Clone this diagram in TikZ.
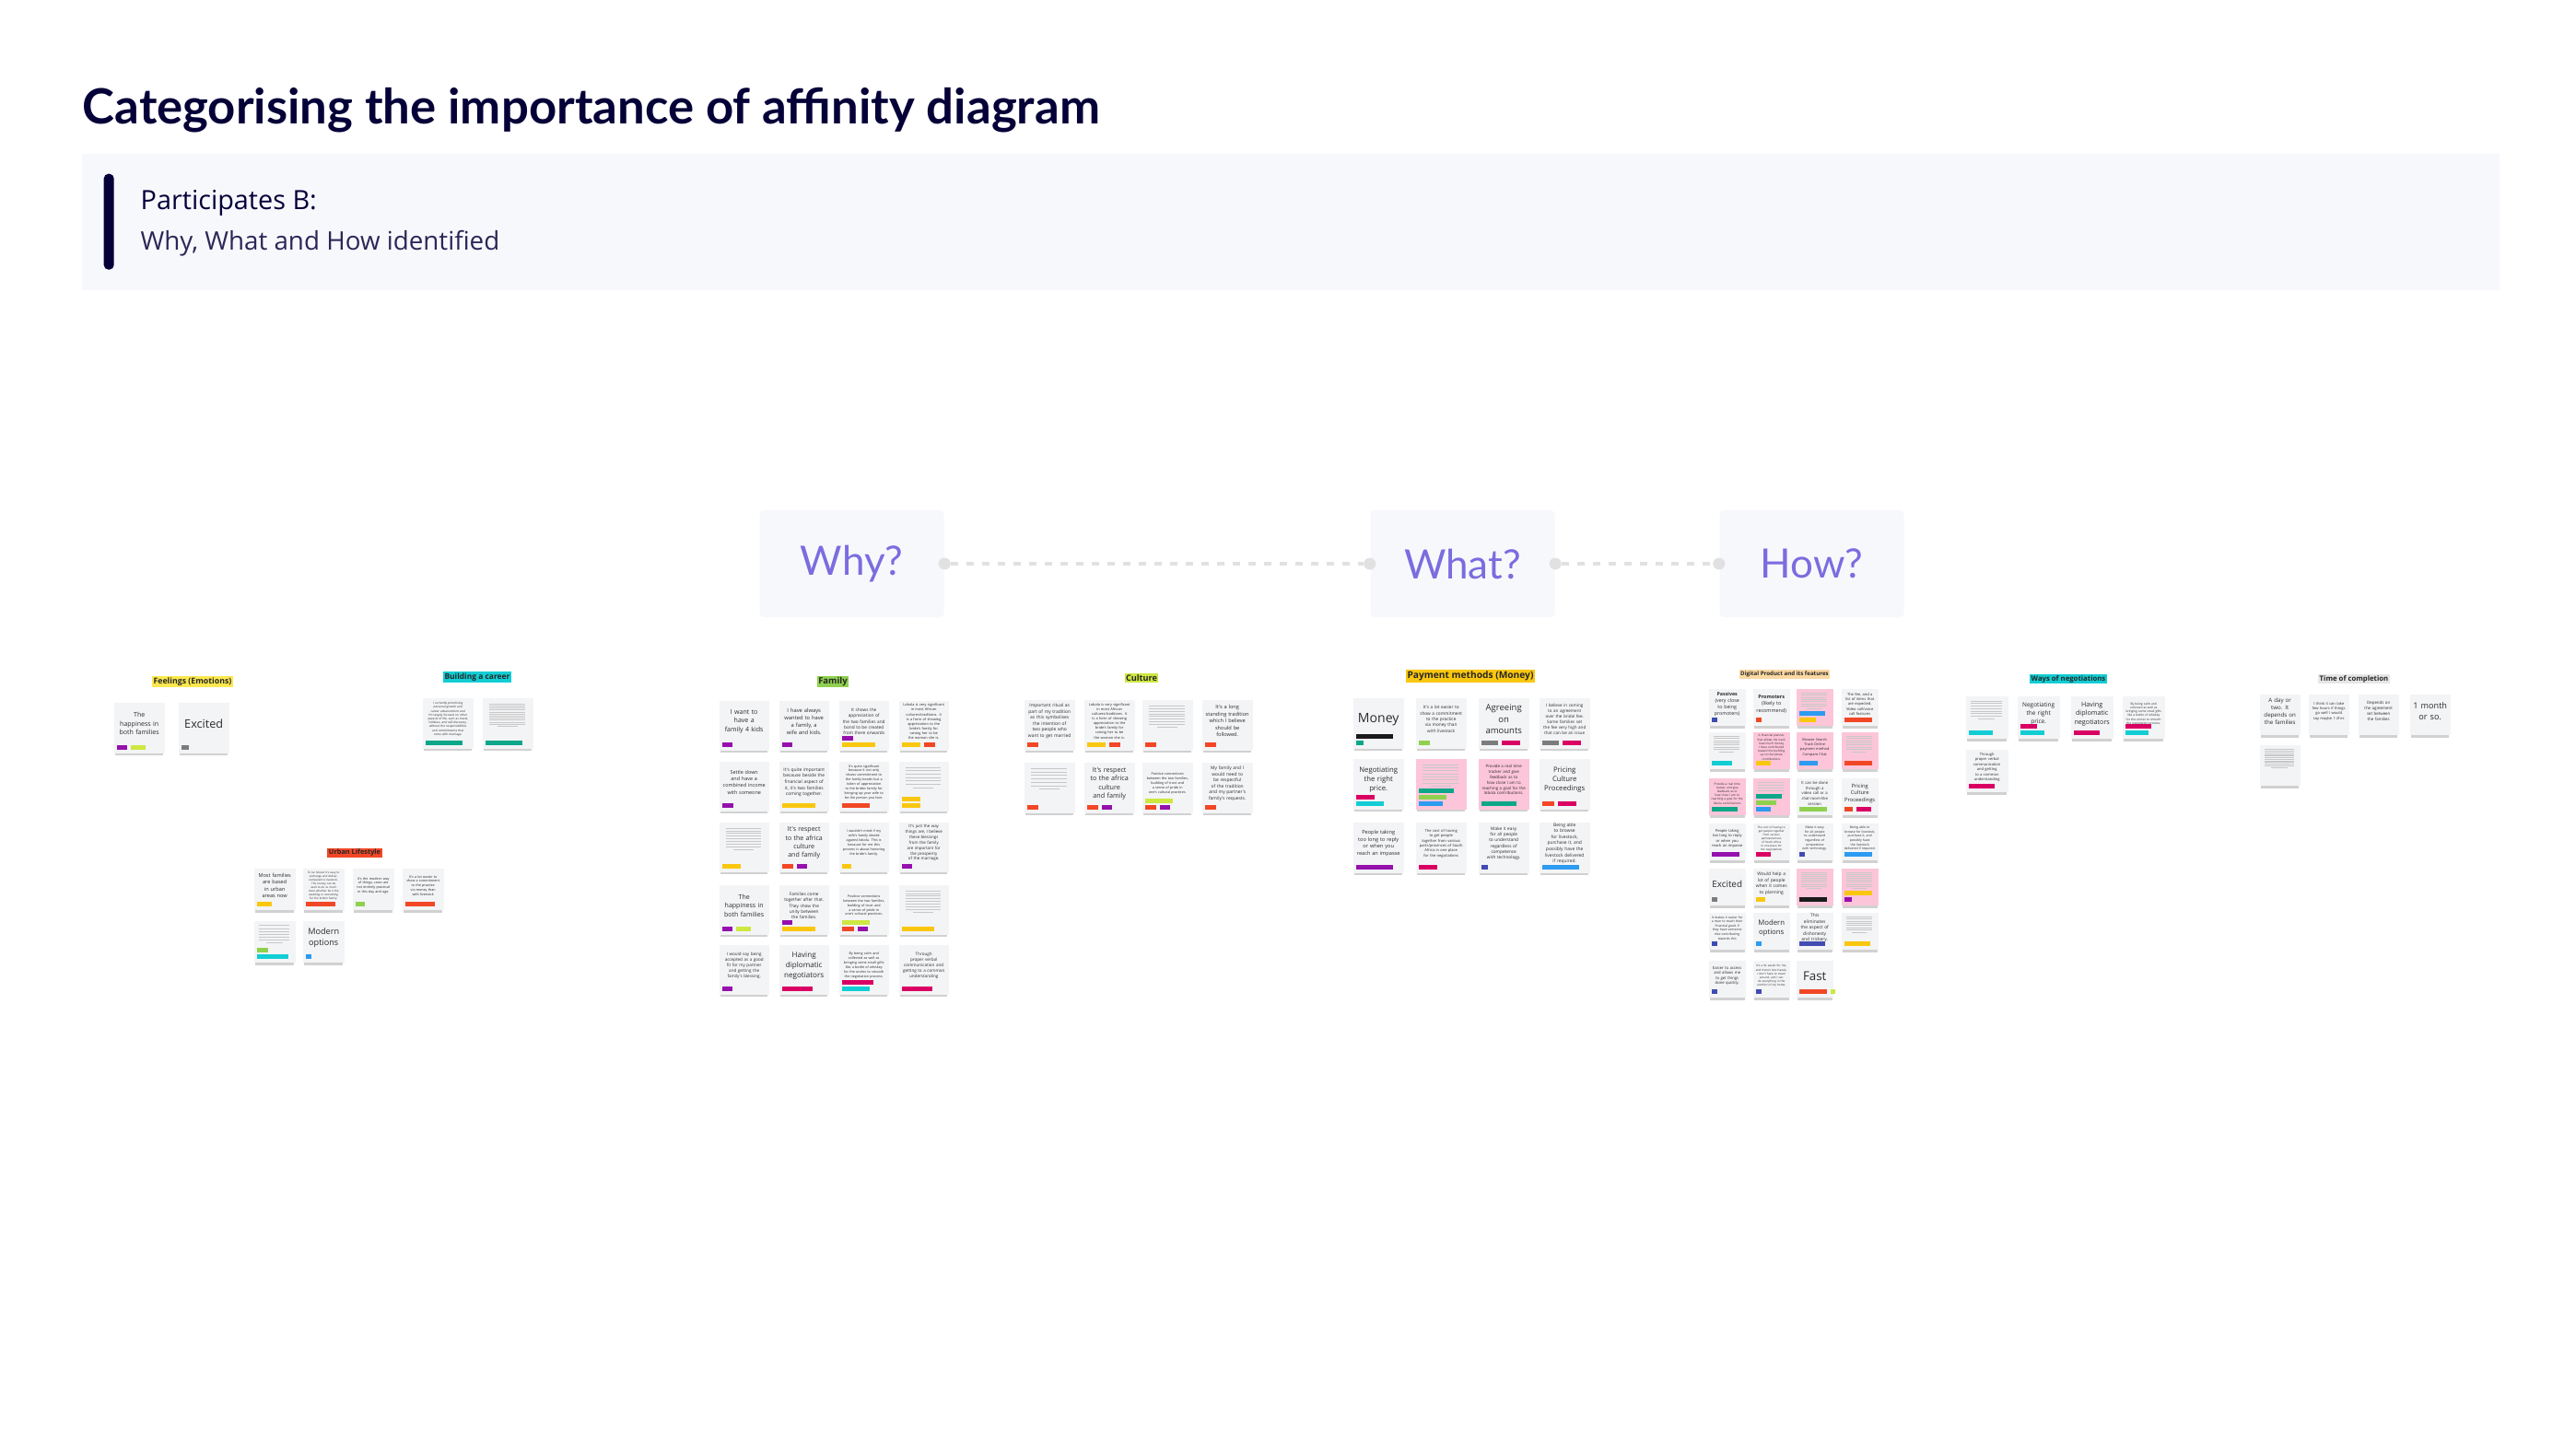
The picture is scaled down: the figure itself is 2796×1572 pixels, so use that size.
\documentclass[tikz,border=0pt]{standalone}
\usepackage{fontspec}
\setmainfont{Open Sans}
\newfontfamily\notefont{Open Sans}
\newfontfamily\headfont{Lato}
\usetikzlibrary{positioning,calc,shadows}
\hyphenpenalty=10000
\exhyphenpenalty=10000

\definecolor{inkdark}{HTML}{050038}
\definecolor{headbg}{HTML}{F7F8FC}
\definecolor{qpurple}{HTML}{7B6CDF}
\definecolor{dotgray}{HTML}{E1E1E1}
\definecolor{notebg}{HTML}{F3F4F6}
\definecolor{notepink}{HTML}{FDC5D9}
\definecolor{notetextcol}{HTML}{2B2B2B}
% cluster label colours
\definecolor{lblyellow}{HTML}{FCE84F}
\definecolor{lblcyan}{HTML}{12CDD4}
\definecolor{lblred}{HTML}{F24726}
\definecolor{lblgreen}{HTML}{8FD14F}
\definecolor{lbllime}{HTML}{CEE741}
\definecolor{lblorange}{HTML}{FAC710}
\definecolor{lblpeach}{HTML}{FDD9A3}
\definecolor{lblgray}{HTML}{E6E6E6}
% tag colours
\definecolor{tpurple}{HTML}{9510AC}
\definecolor{tlime}{HTML}{CEE741}
\definecolor{tgray}{HTML}{7C7C7C}
\definecolor{tteal}{HTML}{0CA789}
\definecolor{tyellow}{HTML}{FAC710}
\definecolor{tred}{HTML}{F24726}
\definecolor{tmagenta}{HTML}{DA0063}
\definecolor{tcyan}{HTML}{12CDD4}
\definecolor{tgreen}{HTML}{8FD14F}
\definecolor{tblue}{HTML}{2D9BF0}
\definecolor{tdarkblue}{HTML}{414BB2}
\definecolor{tblack}{HTML}{1A1A1A}

\tikzset{
    sticky/.style={rectangle, inner sep=0pt, anchor=north west,
        drop shadow={shadow xshift=0mm, shadow yshift=-0.45mm, shadow scale=0.94, fill=black!60, opacity=0.3}},
    notetext/.style={inner sep=0pt, align=center, text=notetextcol},
    tagbox/.style={rectangle, inner sep=0pt, minimum height=0.45mm, anchor=south west},
    filler/.style={draw=black!22, line width=0.08mm},
    clusterlabel/.style={inner sep=0.15mm, text=black!85},
    qbox/.style={rectangle, rounded corners=0.4mm, fill=headbg, minimum width=20mm, minimum height=11.6mm,
        font=\headfont\fontsize{12.5}{15}\selectfont, text=qpurple},
    qdot/.style={circle, fill=dotgray, inner sep=0pt, minimum size=1.3mm},
    qlink/.style={draw=dotgray, line width=0.4mm, dash pattern=on 0.8mm off 0.9mm}
}

% sticky note: [fill]{name}{x}{y}{size}{font size}{text}
\newcommand{\snote}[7][notebg]{%
    \pgfmathsetmacro\ntw{#5*0.086}%
    \pgfmathsetmacro\nbs{#6*1.33}%
    \node[sticky, fill=#1, minimum size=#5*0.1mm] (#2) at (#3,#4) {};
    \node[notetext, text width=\ntw mm, font=\notefont\fontsize{#6}{\nbs}\selectfont]
        (#2-txt) at ($(#2.north)!0.42!(#2.south)$) {#7};}
% sticky note whose writing is too small to read: [fill]{name}{x}{y}{size}{lines}
\newcommand{\fnote}[6][notebg]{%
    \snote[#1]{#2}{#3}{#4}{#5}{1}{}%
    \foreach \k in {1,...,#6}{%
        \pgfmathsetmacro\ly{#4+0.13*#5+(\k-1)*0.48*#5/#6}%
        \pgfmathsetmacro\lw{ifthenelse(\k==#6,0.4,0.72)*#5}%
        \draw[filler] ({#3+0.5*#5-0.5*\lw},\ly) -- ++(\lw,0);}}
% row of tags: {note}{row from bottom}{colour/width,...}
\newcommand{\tagrow}[3]{%
    \pgfmathsetmacro\tyo{0.4+#2*0.7}%
    \foreach \tc/\tw [count=\ti, remember=\ti as \tprev (initially 0)] in {#3}{%
        \ifnum\ti=1
            \node[tagbox, fill=\tc, minimum width=\tw*0.1mm] (#1-t#2-\ti) at ([xshift=0.3mm, yshift=\tyo mm]#1.south west) {};
        \else
            \node[tagbox, fill=\tc, minimum width=\tw*0.1mm, right=0.3mm of #1-t#2-\tprev] (#1-t#2-\ti) {};
        \fi}}
% cluster heading: {name}{x}{y}{fill}{font size}{text}
\newcommand{\clabel}[6]{%
    \node[clusterlabel, fill=#4, font=\notefont\bfseries\fontsize{#5}{#5}\selectfont] (#1) at (#2,#3) {#6};}

\begin{document}
\begin{tikzpicture}[x=0.1mm, y=-0.1mm]
    \useasboundingbox (0,0) rectangle (2796,1572);

    % Heading
    \node[anchor=base west, inner sep=0, text=inkdark, font=\headfont\bfseries\fontsize{15}{18}\selectfont]
        (title) at (89,135) {Categorising the importance of affinity diagram};
    \node[anchor=north west, inner sep=0, fill=headbg, minimum width=262.4mm, minimum height=14.8mm] (header) at (88,166) {};
    \node[anchor=north west, inner sep=0, fill=inkdark, rounded corners=0.5mm, minimum width=1.1mm, minimum height=10.4mm] (bar) at (112,188) {};
    \node[anchor=base west, inner sep=0, text=inkdark, font=\notefont\fontsize{8.2}{10}\selectfont] (part) at (152,228) {Participates B:};
    \node[anchor=base west, inner sep=0, text=inkdark!85, font=\notefont\fontsize{7.9}{10}\selectfont] (sub) at (152,272) {Why, What and How identified};

    % Why / What / How
    \node[qbox] (why) at (924.5,612) {Why?};
    \node[qbox] (what) at (1587.5,612) {What?};
    \node[qbox] (how) at (1966.5,612) {How?};
    \node[qdot] (whyR) at (why.east) {};
    \node[qdot] (whatL) at (what.west) {};
    \node[qdot] (whatR) at (what.east) {};
    \node[qdot] (howL) at (how.west) {};
    \draw[qlink] (whyR) -- (whatL);
    \draw[qlink] (whatR) -- (howL);

    % Feelings (Emotions)
    \clabel{feel}{209}{740}{lblyellow}{2.5}{Feelings (Emotions)}
    \snote{fe1}{123}{762}{55}{2.0}{The happiness in both families}
    \tagrow{fe1}{0}{tpurple/11,tlime/16}
    \snote{fe2}{193}{762}{55}{3.6}{Excited}
    \tagrow{fe2}{0}{tgray/8}

    % Building a career
    \clabel{career}{518}{735}{lblcyan}{2.4}{Building a career}
    \snote{bc1}{458}{757}{55}{0.9}{I currently prioritising personal growth and career advancement and I'm largely focused on other aspects of life, such as travel, hobbies, and self-discovery, without the responsibilities and commitments that come with marriage.}
    \tagrow{bc1}{0}{tteal/40}
    \fnote{bc2}{523}{757}{55}{12}
    \tagrow{bc2}{0}{tteal/40}

    % Urban Lifestyle
    \clabel{urban}{385}{926}{lblred}{2.1}{Urban Lifestyle}
    \snote{ul1}{275}{942}{45}{1.6}{Most families are based in urban areas now}
    \tagrow{ul1}{0}{tyellow/16}
    \snote{ul2}{328}{942}{45}{0.85}{To be honest it's easy to exchange and deliver, compared to livestock. The money can be used to do so much more whether be it the wedding or something for the bride's family.}
    \tagrow{ul2}{0}{tred/32}
    \snote{ul3}{382}{942}{45}{1.05}{It's the modern way of things, cows are not entirely practical in this day and age.}
    \tagrow{ul3}{0}{tgreen/10}
    \snote{ul4}{436}{942}{45}{1.05}{It's a lot easier to show a commitment to the practice via money than with livestock}
    \tagrow{ul4}{0}{tred/32}
    \fnote{ul5}{275}{999}{45}{7}
    \tagrow{ul5}{1}{tgreen/12}
    \tagrow{ul5}{0}{tcyan/34}
    \snote{ul6}{328}{999}{45}{2.6}{Modern options}
    \tagrow{ul6}{0}{tblue/6}

    % Family
    \clabel{family}{904}{740}{lblgreen}{2.7}{Family}
    \snote{fa1}{780}{760}{54}{2.0}{I want to have a family 4 kids}
    \tagrow{fa1}{0}{tpurple/11}
    \snote{fa2}{845}{760}{54}{1.65}{I have always wanted to have a family, a wife and kids.}
    \tagrow{fa2}{0}{tpurple/11}
    \snote{fa3}{910}{760}{54}{1.35}{It shows the appreciation of the two families and bond to be created from there onwards}
    \tagrow{fa3}{1}{tpurple/12}
    \tagrow{fa3}{0}{tyellow/36}
    \snote{fa4}{975}{760}{54}{1.1}{Lobola is very significant in most African cultures/traditions. It is a form of showing appreciation to the bride's family for raising her to be the woman she is.}
    \tagrow{fa4}{0}{tyellow/20,tred/12}
    \snote{fa5}{780}{826}{54}{1.55}{Settle down and have a combined income with someone}
    \tagrow{fa5}{0}{tpurple/12}
    \snote{fa6}{845}{826}{54}{1.4}{It's quite important because beside the financial aspect of it, it's two families coming together.}
    \tagrow{fa6}{0}{tyellow/36}
    \snote{fa7}{910}{826}{54}{1.05}{It's quite significant because it not only shows commitment to the family bonds but a token of appreciation to the brides family for bringing up your wife to be the person you love.}
    \tagrow{fa7}{0}{tred/30}
    \fnote{fa8}{975}{826}{54}{7}
    \tagrow{fa8}{1}{tyellow/20}
    \tagrow{fa8}{0}{tyellow/20}
    \fnote{fa9}{780}{892}{54}{9}
    \tagrow{fa9}{0}{tyellow/20}
    \snote{fa10}{845}{892}{54}{2.0}{It's respect to the africa culture and family}
    \tagrow{fa10}{0}{tred/12,tpurple/11}
    \snote{fa11}{910}{892}{54}{1.05}{I wouldn't mind if my wife's family decide against lobola. This is because for me this process is about honoring the bride's family.}
    \tagrow{fa11}{0}{tyellow/10}
    \snote{fa12}{975}{892}{54}{1.25}{It's just the way things are, I believe these blessings from the family are important for the prosperity of the marriage.}
    \tagrow{fa12}{0}{tpurple/11}
    \snote{fa13}{780}{960}{54}{2.0}{The happiness in both families}
    \tagrow{fa13}{0}{tpurple/11,tlime/16}
    \snote{fa14}{845}{960}{54}{1.35}{Families come together after that. They show the unity between the families.}
    \tagrow{fa14}{1}{tpurple/11}
    \tagrow{fa14}{0}{tyellow/36}
    \snote{fa15}{910}{960}{54}{1.05}{Positive connections between the two families, building of trust and a sense of pride in one's cultural practices.}
    \tagrow{fa15}{1}{tlime/30}
    \tagrow{fa15}{0}{tred/13,tpurple/11}
    \fnote{fa16}{975}{960}{54}{9}
    \tagrow{fa16}{0}{tyellow/35}
    \snote{fa17}{780}{1025}{54}{1.3}{I would say being accepted as a good fit for my partner and getting the family's blessing.}
    \tagrow{fa17}{0}{tpurple/11}
    \snote{fa18}{845}{1025}{54}{2.3}{Having diplomatic negotiators}
    \tagrow{fa18}{0}{tmagenta/33}
    \snote{fa19}{910}{1025}{54}{1.05}{By being calm and collected as well as bringing some small gifts like a bottle of whiskey for the uncles to smooth the negotiation process.}
    \tagrow{fa19}{1}{tmagenta/34}
    \tagrow{fa19}{0}{tcyan/30}
    \snote{fa20}{975}{1025}{54}{1.3}{Through proper verbal communication and getting to a common understanding}
    \tagrow{fa20}{0}{tmagenta/33}

    % Culture
    \clabel{culture}{1239}{736}{lbllime}{2.6}{Culture}
    \snote{cu1}{1111}{759}{55}{1.4}{Important ritual as part of my tradition as this symbolises the intention of two people who want to get married}
    \tagrow{cu1}{0}{tred/12}
    \snote{cu2}{1176}{759}{55}{1.1}{Lobola is very significant in most African cultures/traditions. It is a form of showing appreciation to the bride's family for raising her to be the woman she is.}
    \tagrow{cu2}{0}{tyellow/20,tred/12}
    \fnote{cu3}{1239}{759}{55}{9}
    \tagrow{cu3}{0}{tred/12}
    \snote{cu4}{1304}{759}{55}{1.6}{It's a long standing tradition which I believe should be followed.}
    \tagrow{cu4}{0}{tred/12}
    \fnote{cu5}{1111}{827}{55}{7}
    \tagrow{cu5}{0}{tred/12}
    \snote{cu6}{1176}{827}{55}{2.05}{It's respect to the africa culture and family}
    \tagrow{cu6}{0}{tred/12,tpurple/11}
    \snote{cu7}{1239}{827}{55}{1.05}{Positive connections between the two families, building of trust and a sense of pride in one's cultural practices.}
    \tagrow{cu7}{1}{tlime/30}
    \tagrow{cu7}{0}{tred/12,tpurple/11}
    \snote{cu8}{1304}{827}{55}{1.4}{My family and I would need to be respectful of the tradition and my partner's family's requests.}
    \tagrow{cu8}{0}{tred/12}

    % Payment methods (Money)
    \clabel{payment}{1596}{734}{lblorange}{2.9}{Payment methods (Money)}
    \snote{pm1}{1468}{757}{55}{4.0}{Money}
    \tagrow{pm1}{1}{tblack/40}
    \tagrow{pm1}{0}{tteal/8}
    \snote{pm2}{1536}{757}{55}{1.35}{It's a lot easier to show a commitment to the practice via money than with livestock}
    \tagrow{pm2}{0}{tgreen/12}
    \snote{pm3}{1604}{757}{55}{2.7}{Agreeing on amounts}
    \tagrow{pm3}{0}{tgray/18,tmagenta/20}
    \snote{pm4}{1670}{757}{55}{1.3}{I believe in coming to an agreement over the bridal fee. Some families set the fee very high and that can be an issue}
    \tagrow{pm4}{0}{tgray/18,tmagenta/20}
    \snote{pm5}{1468}{823}{55}{2.2}{Negotiating the right price.}
    \tagrow{pm5}{1}{tmagenta/20}
    \tagrow{pm5}{0}{tcyan/30}
    \fnote[notepink]{pm6}{1536}{823}{55}{8}
    \tagrow{pm6}{2}{tteal/38}
    \tagrow{pm6}{1}{tgreen/30}
    \tagrow{pm6}{0}{tblue/26}
    \snote[notepink]{pm7}{1604}{823}{55}{1.25}{Provide a real time tracker and give feedback as to how close I am to reaching a goal for the lobola contributions.}
    \tagrow{pm7}{0}{tteal/38}
    \snote{pm8}{1670}{823}{55}{2.2}{Pricing Culture Proceedings}
    \tagrow{pm8}{0}{tred/13,tmagenta/20}
    \snote{pm9}{1468}{892}{55}{1.6}{People taking too long to reply or when you reach an impasse}
    \tagrow{pm9}{0}{tpurple/40}
    \snote{pm10}{1536}{892}{55}{1.15}{The cost of having to get people together from various parts/provinces of South Africa in one place for the negotiations}
    \tagrow{pm10}{0}{tmagenta/20}
    \snote{pm11}{1604}{892}{55}{1.35}{Make it easy for all people to understand regardless of competence with technology.}
    \tagrow{pm11}{0}{tdarkblue/7}
    \snote{pm12}{1670}{892}{55}{1.4}{Being able to browse for livestock, purchase it, and possibly have the livestock delivered if required.}
    \tagrow{pm12}{0}{tblue/40}

    % Digital Product and its features
    \clabel{digital}{1937}{732}{lblpeach}{1.75}{Digital Product and its features}
    \snote{dp1}{1854}{747}{40}{1.5}{{\bfseries Passives} (very close to being promoters)}
    \tagrow{dp1}{0}{tdarkblue/6}
    \snote{dp2}{1902}{747}{40}{1.55}{{\bfseries Promoters} (likely to recommend)}
    \tagrow{dp2}{0}{tred/6}
    \fnote[notepink]{dp3}{1949}{747}{40}{8}
    \tagrow{dp3}{1}{tblue/28}
    \tagrow{dp3}{0}{tyellow/18}
    \snote{dp4}{1998}{747}{40}{1.15}{The fee, and a list of items that are expected. Video call/voice call features}
    \tagrow{dp4}{0}{tred/30}
    \fnote{dp5}{1854}{794}{40}{8}
    \tagrow{dp5}{0}{tcyan/22}
    \snote[notepink]{dp6}{1902}{794}{40}{0.9}{A financial planner that allows me track how much money I have contributed toward the building up to the lobola contributions.}
    \tagrow{dp6}{0}{tyellow/16}
    \snote[notepink]{dp7}{1949}{794}{40}{1.1}{Browse Search Track Online payment method Compare Chat}
    \tagrow{dp7}{0}{tblue/20}
    \fnote[notepink]{dp8}{1998}{794}{40}{8}
    \tagrow{dp8}{0}{tred/30}
    \snote[notepink]{dp9}{1854}{844}{40}{0.9}{Provide a real time tracker and give feedback as to how close I am to reaching a goal for the lobola contributions}
    \tagrow{dp9}{0}{tteal/28}
    \fnote[notepink]{dp10}{1902}{844}{40}{6}
    \tagrow{dp10}{2}{tteal/28}
    \tagrow{dp10}{1}{tgreen/22}
    \tagrow{dp10}{0}{tblue/16}
    \snote{dp11}{1949}{844}{40}{1.2}{It can be done through a video call or a chat-room-like session}
    \tagrow{dp11}{0}{tgreen/30}
    \snote{dp12}{1998}{844}{40}{1.65}{Pricing Culture Proceedings}
    \tagrow{dp12}{0}{tred/9,tmagenta/16}
    \snote{dp13}{1854}{893}{40}{1.15}{People taking too long to reply or when you reach an impasse}
    \tagrow{dp13}{0}{tpurple/30}
    \snote{dp14}{1902}{893}{40}{0.85}{The cost of having to get people together from various parts/provinces of South Africa in one place for the negotiations}
    \tagrow{dp14}{0}{tmagenta/16}
    \snote{dp15}{1949}{893}{40}{0.98}{Make it easy for all people to understand regardless of competence with technology.}
    \tagrow{dp15}{0}{tdarkblue/6}
    \snote{dp16}{1998}{893}{40}{0.98}{Being able to browse for livestock, purchase it, and possibly have the livestock delivered if required.}
    \tagrow{dp16}{0}{tblue/30}
    \snote{dp17}{1854}{942}{40}{2.8}{Excited}
    \tagrow{dp17}{0}{tgray/6}
    \snote{dp18}{1902}{942}{40}{1.4}{Would help a lot of people when it comes to planning}
    \tagrow{dp18}{0}{tyellow/10}
    \fnote[notepink]{dp19}{1949}{942}{40}{9}
    \tagrow{dp19}{0}{tblack/30}
    \fnote[notepink]{dp20}{1998}{942}{40}{9}
    \tagrow{dp20}{1}{tyellow/30}
    \tagrow{dp20}{0}{tpurple/8}
    \snote{dp21}{1854}{990}{40}{0.98}{It makes it easier for a man to reach their financial goals if they have someone else contributing towards this}
    \tagrow{dp21}{0}{tdarkblue/6}
    \snote{dp22}{1902}{990}{40}{2.2}{Modern options}
    \tagrow{dp22}{0}{tblue/6}
    \snote{dp23}{1949}{990}{40}{1.4}{This eliminates the aspect of dishonesty and trickery.}
    \tagrow{dp23}{0}{tdarkblue/28}
    \fnote{dp24}{1998}{990}{40}{8}
    \tagrow{dp24}{0}{tyellow/28}
    \snote{dp25}{1854}{1042}{40}{1.2}{Easier to access and allows me to get things done quickly.}
    \tagrow{dp25}{0}{tdarkblue/6}
    \snote{dp26}{1902}{1042}{40}{0.88}{It's a lot easier for me, and there's less hassle. I don't have to travel around, and I can do everything in the comfort of my home.}
    \tagrow{dp26}{0}{tdarkblue/6}
    \snote{dp27}{1949}{1042}{40}{3.8}{Fast}
    \tagrow{dp27}{0}{tred/30,tlime/5}

    % Ways of negotiations
    \clabel{ways}{2245}{737}{lblcyan}{2.2}{Ways of negotiations}
    \fnote{wn1}{2133}{755}{46}{8}
    \tagrow{wn1}{0}{tcyan/26}
    \snote{wn2}{2189}{755}{46}{1.85}{Negotiating the right price.}
    \tagrow{wn2}{1}{tmagenta/18}
    \tagrow{wn2}{0}{tcyan/26}
    \snote{wn3}{2247}{755}{46}{2.05}{Having diplomatic negotiators}
    \tagrow{wn3}{0}{tmagenta/28}
    \snote{wn4}{2303}{755}{46}{0.92}{By being calm and collected as well as bringing some small gifts like a bottle of whiskey for the uncles to smooth the negotiation process.}
    \tagrow{wn4}{1}{tmagenta/28}
    \tagrow{wn4}{0}{tcyan/25}
    \snote{wn5}{2133}{813}{46}{1.15}{Through proper verbal communication and getting to a common understanding}
    \tagrow{wn5}{0}{tmagenta/28}

    % Time of completion
    \clabel{timec}{2555}{737}{lblgray}{2.2}{Time of completion}
    \snote{tc1}{2452}{753}{44}{1.75}{A day or two. It depends on the families}
    \snote{tc2}{2505}{753}{44}{1.15}{I think it can take few hours if things go well I would say maybe 1-2hrs}
    \snote{tc3}{2559}{753}{44}{1.25}{Depends on the agreement set between the families}
    \snote{tc4}{2615}{753}{44}{2.6}{1 month or so.}
    \fnote{tc5}{2452}{808}{44}{12}
\end{tikzpicture}
\end{document}
